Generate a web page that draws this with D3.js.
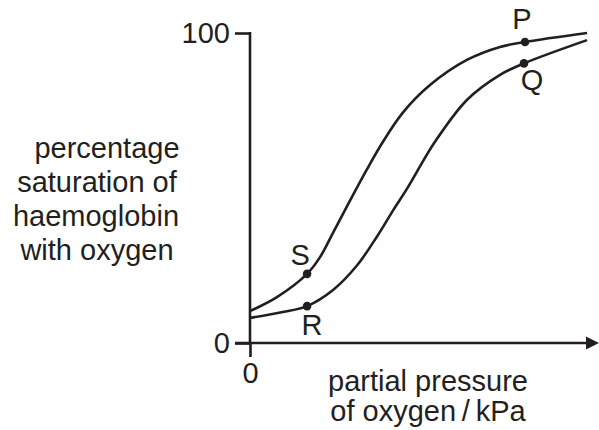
<!DOCTYPE html>
<html>
<head>
<meta charset="utf-8">
<script src="https://cdn.jsdelivr.net/npm/d3@7"></script>
<style>
  html, body { margin: 0; padding: 0; background: #fff; }
  svg { display: block; }
  text { font-family: "Liberation Sans", Arial, sans-serif; fill: #231f20; }
</style>
</head>
<body>
<svg id="chart" width="599" height="430"></svg>
<script>
// ---- data ----
const xTickValues = [0];
const yTickValues = [0, 100];

const pressureUpper   = [0, 1.08, 2.29, 2.81, 3.33, 4.01, 4.69, 5.34, 6.14, 7.22, 8.70, 10.03, 11.03, 13.52];
const saturationUpper = [10.3, 14.8, 22.3, 27.7, 35.5, 45.9, 56.0, 65.0, 74.4, 83.2, 91.3, 95.5, 97.1, 100];

const pressureLower   = [0, 1.32, 2.29, 3.33, 4.29, 5.09, 5.74, 6.30, 6.70, 7.42, 8.70, 10.03, 10.99, 13.52];
const saturationLower = [8.1, 10.0, 11.9, 17.1, 25.0, 34.3, 42.8, 49.8, 55.3, 64.9, 78.4, 86.5, 90.2, 97.7];

const pointNames      = ["P", "Q", "R", "S"];
const pointPressure   = [11.03, 10.99, 2.29, 2.29];
const pointSaturation = [97.1, 90.2, 11.9, 22.3];

const yTitleLines = ["percentage", "saturation of", "haemoglobin", "with oxygen"];
const xTitleLines = ["partial pressure", "of oxygen\u2009/\u2009kPa"];

// ---- layout ----
const ink = "#231f20";
const fontSize = 29;
const svg = d3.select("#chart");

const x = d3.scaleLinear().domain([0, 14]).range([250, 599]);
const y = d3.scaleLinear().domain([0, 100]).range([343, 33]);

// y axis ticks + labels
const yAxis = d3.axisLeft(y).tickValues(yTickValues).tickSize(15).tickPadding(5).tickSizeOuter(0);
const gy = svg.append("g").attr("transform", `translate(${x(0)},0)`).call(yAxis);
gy.select(".domain").remove();
gy.selectAll(".tick line").attr("stroke", ink).attr("stroke-width", 2.6);
gy.selectAll(".tick text").attr("font-size", fontSize).attr("fill", ink)
  .style("font-family", '"Liberation Sans", Arial, sans-serif');

// x axis ticks + labels (tick at 0 extends the y axis below the x axis)
const xAxis = d3.axisBottom(x).tickValues(xTickValues).tickSize(14).tickPadding(5).tickSizeOuter(0);
const gx = svg.append("g").attr("transform", `translate(0,${y(0)})`).call(xAxis);
gx.select(".domain").remove();
gx.selectAll(".tick line").attr("stroke", ink).attr("stroke-width", 2.6);
gx.selectAll(".tick text").attr("font-size", fontSize).attr("fill", ink)
  .style("font-family", '"Liberation Sans", Arial, sans-serif');

// axis lines
svg.append("line")
  .attr("x1", x(0)).attr("x2", x(0))
  .attr("y1", y(100) - 1).attr("y2", y(0))
  .attr("stroke", ink).attr("stroke-width", 2.6);

const xEnd = x.range()[1];
svg.append("line")
  .attr("x1", x(0) - 15).attr("x2", xEnd - 10)
  .attr("y1", y(0)).attr("y2", y(0))
  .attr("stroke", ink).attr("stroke-width", 2.6);
svg.append("path")
  .attr("d", `M${xEnd},${y(0)} L${xEnd - 13},${y(0) - 6.5} L${xEnd - 13},${y(0) + 6.5} Z`)
  .attr("fill", ink);

// curves
const line = d3.line().x(d => x(d[0])).y(d => y(d[1])).curve(d3.curveCatmullRom.alpha(0.5));
const upper = pressureUpper.map((p, i) => [p, saturationUpper[i]]);
const lower = pressureLower.map((p, i) => [p, saturationLower[i]]);

svg.append("path").datum(upper).attr("d", line)
  .attr("fill", "none").attr("stroke", ink).attr("stroke-width", 2.6);
svg.append("path").datum(lower).attr("d", line)
  .attr("fill", "none").attr("stroke", ink).attr("stroke-width", 2.6);

// points + labels
const labelOffset = { P: [-3, -13], Q: [8, 27], R: [5, 29], S: [-7, -9] };
const pts = pointNames.map((n, i) => ({ n, p: pointPressure[i], s: pointSaturation[i] }));
svg.selectAll("circle.pt").data(pts).join("circle")
  .attr("class", "pt")
  .attr("cx", d => x(d.p)).attr("cy", d => y(d.s)).attr("r", 4.3)
  .attr("fill", ink);
svg.selectAll("text.ptlabel").data(pts).join("text")
  .attr("class", "ptlabel")
  .attr("x", d => x(d.p) + labelOffset[d.n][0])
  .attr("y", d => y(d.s) + labelOffset[d.n][1])
  .attr("text-anchor", "middle")
  .attr("font-size", fontSize)
  .text(d => d.n);

// y title
const yTitleX = [107, 97, 96, 97];
const yTitleY = [158, 192, 226, 260];
svg.selectAll("text.ytitle").data(yTitleLines).join("text")
  .attr("class", "ytitle")
  .attr("x", (d, i) => yTitleX[i]).attr("y", (d, i) => yTitleY[i])
  .attr("text-anchor", "middle").attr("font-size", fontSize)
  .text(d => d);

// x title
const xTitleY = [391, 421];
svg.selectAll("text.xtitle").data(xTitleLines).join("text")
  .attr("class", "xtitle")
  .attr("x", 428).attr("y", (d, i) => xTitleY[i])
  .attr("text-anchor", "middle").attr("font-size", fontSize)
  .text(d => d);
</script>
</body>
</html>
